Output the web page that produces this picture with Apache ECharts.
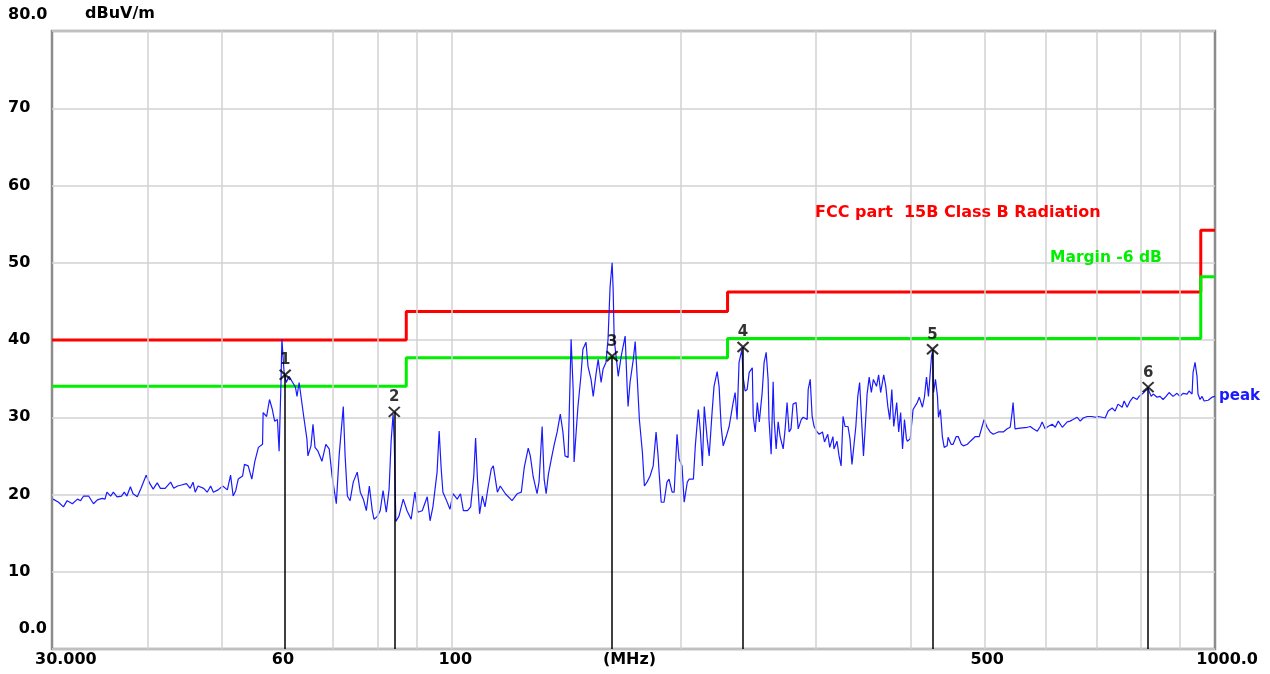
<!DOCTYPE html>
<html><head><meta charset="utf-8">
<script src="https://cdn.jsdelivr.net/npm/echarts@6/dist/echarts.min.js"></script>
<style>html,body{margin:0;padding:0;background:#fff}#c{width:1270px;height:674px}</style>
</head><body><div id="c"></div>
<script>
// ---- data (MHz, dBuV/m) ----
const peakFreq = [30.1,30.6,31.05,31.4,31.9,32.4,32.7,33.0,33.5,34.0,34.4,34.9,35.2,35.4,35.8,36.1,36.5,37.0,37.3,37.6,38.0,38.3,38.8,39.2,39.85,40.3,40.7,41.2,41.6,42.2,42.9,43.3,43.8,44.2,45.0,45.5,45.9,46.2,46.6,47.4,47.9,48.4,48.8,49.5,50.2,50.9,51.4,51.8,52.2,52.6,53.3,53.6,54.2,54.8,55.3,55.9,56.6,56.7,57.3,57.8,58.3,58.7,59.2,59.5,59.85,60.0,60.4,60.8,61.3,61.9,62.5,62.8,63.2,64.1,64.7,64.9,65.5,65.9,66.3,66.9,67.7,68.5,69.2,69.8,70.7,71.3,72.2,72.6,73.1,73.7,74.4,75.3,76.0,76.7,77.4,78.1,78.8,79.2,79.9,80.7,81.4,82.2,82.9,83.4,83.9,84.2,84.6,85.4,86.5,87.5,88.6,89.6,90.4,91.6,93.0,93.8,94.6,95.8,96.4,97.0,97.5,98.4,99.6,100.5,101.8,102.8,103.7,105.0,106.0,107.0,107.6,108.2,108.9,109.8,110.7,111.8,112.8,113.5,114.9,115.9,117.7,120.1,122.0,123.5,124.6,126.1,126.9,128.0,129.5,130.3,131.5,132.3,133.1,134.0,135.2,136.4,137.6,138.9,140.0,140.9,142.2,142.7,143.5,144.4,144.8,145.7,146.5,147.8,148.7,150.1,151.0,152.4,153.4,154.8,155.7,157.1,158.0,159.4,160.4,161.4,162.4,162.9,163.4,164.9,165.4,166.9,167.9,168.9,169.9,170.4,171.4,173.1,174.1,175.2,176.3,177.9,179.0,180.4,182.1,183.8,185.4,186.6,187.1,188.3,189.9,191.6,192.8,194.6,195.8,197.5,198.7,200.5,201.8,203.7,204.9,207.5,208.7,210.6,211.9,213.2,214.4,216.3,217.6,219.5,220.8,222.9,224.2,225.6,227.0,229.1,231.1,233.9,235.3,236.7,238.1,240.2,241.0,242.5,244.0,245.5,247.8,248.5,250.0,251.6,253.1,255.3,256.8,258.4,259.9,260.6,262.3,263.9,264.7,266.3,267.9,269.5,272.0,273.6,275.2,276.9,278.5,280.2,282.8,284.6,287.2,288.9,292.4,293.3,295.1,296.8,298.6,301.3,303.2,306.2,308.1,311.1,313.0,316.0,317.0,319.9,321.9,323.9,325.8,327.8,330.7,332.7,334.7,336.6,338.6,340.6,342.5,344.5,346.5,348.4,350.3,352.5,354.8,357.0,360.4,362.7,364.9,368.3,370.6,372.9,375.1,377.4,379.6,383.0,385.3,387.6,389.8,392.1,394.4,395.5,398.9,401.1,402.4,407.5,410.0,413.9,416.4,419.0,421.5,425.4,426.7,428.0,430.5,433.1,434.4,436.9,439.5,442.0,445.9,447.2,451.2,454.0,458.3,461.1,465.4,468.3,474.0,478.3,485.5,491.2,495.5,498.4,503.0,507.7,512.4,520.3,528.2,534.5,539.3,542.4,544.0,547.2,555.6,567.8,573.0,578.2,585.2,590.4,593.8,599.0,604.5,612.1,617.8,623.4,631.0,640.4,646.1,651.8,660.0,666.1,672.2,680.3,690.5,696.6,702.9,711.6,718.1,724.7,733.4,739.9,746.5,755.8,760.3,767.3,774.3,781.3,790.6,795.3,805.0,810.0,817.4,824.9,829.9,839.8,847.3,855.0,862.8,870.7,881.2,891.8,899.7,908.1,919.3,924.8,933.2,936.0,941.6,947.2,950.0,955.9,961.8,967.7,979.5,991.2,1000];
const peakLevel = [19.4,19.0,18.4,19.2,18.8,19.4,19.2,19.8,19.8,18.8,19.3,19.5,19.4,20.3,19.8,20.3,19.7,19.8,20.3,19.8,21.0,20.1,19.7,20.7,22.5,21.4,20.7,21.5,20.8,20.8,21.6,20.8,21.1,21.2,21.4,20.8,21.6,20.3,21.1,20.8,20.3,21.1,20.3,20.6,21.1,20.6,22.5,19.8,20.5,22.0,22.4,23.9,23.7,22.0,24.3,26.1,26.5,30.6,30.1,32.3,31.0,29.5,29.7,25.6,34.9,40.1,35.8,34.5,35.3,34.6,33.9,32.7,34.5,30.0,27.2,25.0,26.3,29.1,26.1,25.6,24.3,26.5,25.9,22.4,18.8,25.0,31.4,25.0,19.8,19.2,21.6,22.9,20.3,19.4,17.9,21.1,17.9,16.8,17.1,17.9,20.5,17.7,20.7,26.9,30.4,26.8,16.5,17.2,19.4,17.9,16.8,20.3,17.7,17.9,19.7,16.6,18.4,22.9,28.2,23.3,20.3,19.4,18.1,20.1,19.4,20.1,17.9,17.9,18.4,22.4,27.3,22.0,17.5,19.8,18.4,21.1,23.3,23.7,20.3,21.1,20.1,19.2,20.1,20.3,23.5,26.0,25.0,22.3,20.1,21.7,28.8,22.0,20.1,22.6,24.6,26.5,28.1,30.4,28.1,25.0,24.8,30.6,40.1,33.6,24.2,28.1,31.4,35.3,38.8,39.7,36.6,34.9,32.7,35.8,37.5,34.5,36.2,37.1,40.1,46.9,50.0,46.5,40.1,36.6,35.3,37.9,39.2,40.5,34.0,31.4,34.5,37.5,39.8,34.9,29.7,25.5,21.1,21.6,22.4,23.7,28.1,24.8,22.9,19.0,19.0,21.6,22.0,20.3,20.3,27.8,24.6,23.7,19.0,21.6,22.0,22.0,26.3,31.0,28.1,23.7,31.4,27.2,25.0,30.6,34.0,35.9,34.0,28.8,26.3,27.5,28.8,31.9,33.2,29.7,37.1,38.8,35.3,33.4,33.6,35.8,36.4,30.1,28.1,31.9,29.4,33.2,37.1,38.4,34.9,29.7,25.2,34.6,29.7,25.9,29.4,27.5,25.9,28.5,31.9,28.1,28.5,31.7,31.9,28.5,29.7,30.0,29.7,33.6,34.9,30.1,28.8,28.1,27.8,28.1,26.8,27.8,26.1,27.5,25.9,26.9,25.0,23.7,30.1,28.8,28.8,27.2,23.9,23.9,28.8,32.7,34.5,29.7,25.0,28.8,33.0,35.2,33.2,34.9,34.0,35.5,33.2,35.5,34.0,31.4,29.7,33.6,28.8,31.9,28.1,30.6,25.9,29.7,27.2,26.9,27.2,27.2,31.0,31.9,32.6,31.3,32.6,35.2,32.7,37.9,38.5,33.2,34.9,32.7,30.0,31.0,27.5,26.1,26.3,27.4,26.5,26.5,27.5,27.5,26.5,26.3,26.5,26.9,27.5,27.5,28.8,29.7,28.7,28.1,27.8,28.1,28.1,28.5,28.7,30.6,31.9,28.5,28.6,28.7,28.8,28.5,28.2,28.8,29.4,28.5,28.8,29.1,28.7,29.5,28.7,29.4,29.5,29.7,30.0,29.5,29.9,30.1,30.1,30.0,30.1,30.0,29.9,30.8,31.2,30.8,31.7,31.3,32.1,31.3,32.1,32.6,32.3,32.7,33.1,33.4,33.7,32.7,33.0,32.6,32.7,32.3,32.7,33.2,32.7,33.1,32.7,33.1,33.0,33.4,33.0,35.8,37.1,35.3,33.0,32.3,32.7,32.1,32.2,32.6,32.7];
const markerNames = ['1','2','3','4','5','6'];
const markerFreq = [60.6, 84.2, 162.4, 241.0, 426.7, 817.4];
const markerLevel = [35.5, 30.7, 37.9, 39.1, 38.8, 33.9];
const limitEdges = [30, 87.3, 230, 958, 1000];
const limitLevels = [40.0, 43.7, 46.2, 54.2];
const marginLevels = [34.0, 37.7, 40.2, 48.2];
const gridFreqs = [40, 50, 70, 80, 90, 100, 200, 300, 400, 500, 600, 700, 800, 900];
const xTickFreqs = [30, 60, 100, 500, 1000];
const xTickTexts = ['30.000', '60', '100', '500', '1000.0'];
const yTopText = '80.0', yBottomText = '0.0';
const unitY = 'dBuV/m', unitX = '(MHz)';
const limitName = 'FCC part  15B Class B Radiation';
const marginName = 'Margin -6 dB';
const traceName = 'peak';

// ---- build ----
function stepData(edges, levels) {
  const out = [];
  for (let i = 0; i < levels.length; i++) {
    out.push([edges[i], levels[i]]);
    out.push([edges[i + 1], levels[i]]);
  }
  return out;
}
const FONT = '"DejaVu Sans", Arial, sans-serif';
const RED = '#ff0000', GREEN = '#00ee00', BLUE = '#1a1aff', GRID = '#d2d2d2';

const chart = echarts.init(document.getElementById('c'), null, {renderer: 'canvas'});
chart.setOption({
  animation: false,
  backgroundColor: '#ffffff',
  grid: {left: 52, right: 55, top: 31, bottom: 25, show: true, borderColor: '#8c8c8c', borderWidth: 2.5, backgroundColor: 'transparent'},
  xAxis: {type: 'log', logBase: 10, min: 30, max: 1000,
    axisLine: {show: false}, axisTick: {show: false}, axisLabel: {show: false}, splitLine: {show: false}},
  yAxis: {type: 'value', min: 0, max: 80, interval: 10,
    axisLine: {show: false}, axisTick: {show: false},
    splitLine: {show: true, lineStyle: {color: GRID, width: 1.5}},
    axisLabel: {align: 'left', margin: 44, color: '#000', fontWeight: 'bold', fontSize: 16, fontFamily: FONT,
      formatter: v => (v === 0 || v === 80) ? '' : String(v)}},
  series: [
    {type: 'line', z: 1, data: [], silent: true,
      markLine: {silent: true, symbol: ['none', 'none'], label: {show: false},
        lineStyle: {color: GRID, width: 1.5, type: 'solid'},
        data: gridFreqs.map(f => ({xAxis: f}))}},
    {type: 'line', z: 2, data: stepData(limitEdges, limitLevels), showSymbol: false, silent: true,
      lineStyle: {color: RED, width: 3}},
    {type: 'line', z: 2, data: stepData(limitEdges, marginLevels), showSymbol: false, silent: true,
      lineStyle: {color: GREEN, width: 3}},
    {type: 'line', z: 3, data: peakFreq.map((f, i) => [f, peakLevel[i]]), showSymbol: false, silent: true,
      sampling: null, lineStyle: {color: BLUE, width: 1.2},
      endLabel: {show: true, formatter: traceName, color: BLUE, fontWeight: 'bold', fontSize: 15, fontFamily: FONT, distance: 4}},
    {type: 'scatter', z: 4, silent: true,
      data: markerFreq.map((f, i) => [f, markerLevel[i]]),
      symbol: 'path://M0,0L10,10M10,0L0,10', symbolSize: [11, 10],
      itemStyle: {color: 'rgba(0,0,0,0)', borderColor: '#000', borderWidth: 2},
      label: {show: true, position: 'top', distance: 1, color: '#000', fontWeight: 'bold', fontSize: 15, fontFamily: FONT,
        formatter: p => markerNames[p.dataIndex]},
      markLine: {silent: true, symbol: ['none', 'none'], label: {show: false},
        lineStyle: {color: '#000', width: 1.5, type: 'solid'},
        data: markerFreq.map((f, i) => [{coord: [f, 0]}, {coord: [f, markerLevel[i]]}])}}
  ]
});

// ---- text annotations placed through the axes ----
const px = f => chart.convertToPixel({xAxisIndex: 0}, f);
const py = v => chart.convertToPixel({yAxisIndex: 0}, v);
function txt(text, x, y, align, color, size) {
  return {type: 'text', x: x, y: y, silent: true, z: 10,
    style: {text: text, fill: color, font: 'bold ' + size + 'px ' + FONT,
      align: align, verticalAlign: 'middle', textAlign: align, textVerticalAlign: 'middle'}};
}
const yBottomPx = py(0), yTopPx = py(80);
const labelY = yBottomPx + 11;
const g = [];
g.push(txt(yTopText, 8, yTopPx - 16, 'left', '#000', 16));
g.push(txt(yBottomText, 47, yBottomPx - 20, 'right', '#000', 16));
g.push(txt(unitY, 85, yTopPx - 17, 'left', '#000', 16));
const xAdj = [[-17, 'left'], [1, 'center'], [4, 'center'], [2, 'center'], [43, 'right']];
xTickFreqs.forEach((f, i) => g.push(txt(xTickTexts[i], px(f) + xAdj[i][0], labelY, xAdj[i][1], '#000', 16)));
g.push(txt(unitX, (px(100) + px(300)) / 2 - 4, labelY, 'center', '#000', 16));
g.push(txt(limitName, 815, py(56.5), 'left', RED, 16));
g.push(txt(marginName, 1050, py(50.6), 'left', GREEN, 15.5));
chart.setOption({graphic: g});
</script>
</body></html>
